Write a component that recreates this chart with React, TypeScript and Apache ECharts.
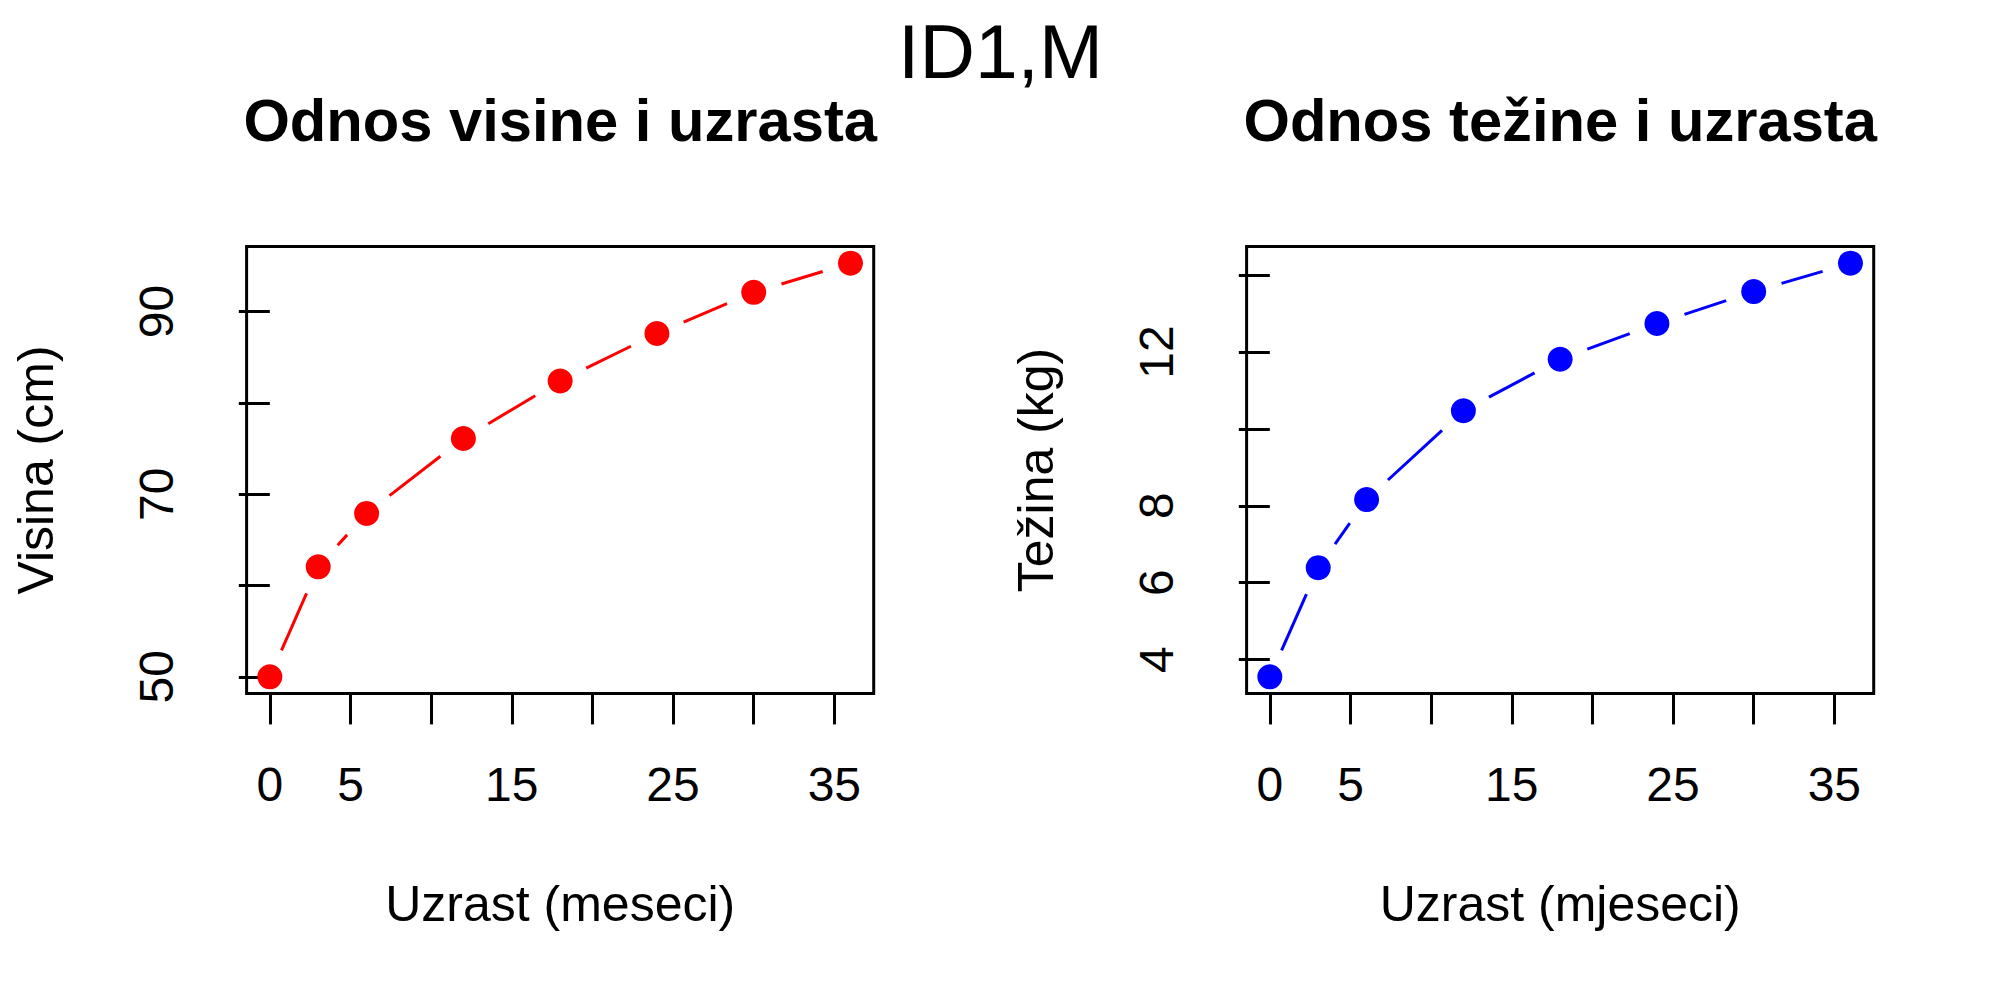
import React, { useEffect, useRef } from "react";
import * as echarts from "echarts";

// ---- data ----
const ages = [0, 3, 6, 12, 18, 24, 30, 36];
const heights = [50.0, 62.05, 67.9, 76.1, 82.4, 87.6, 92.1, 95.3];
const weights = [3.55, 6.39, 8.16, 10.47, 11.81, 12.74, 13.57, 14.31];

const xTicks = [0, 5, 10, 15, 20, 25, 30, 35];
const xTickLabels = [0, 5, 15, 25, 35];
const hTicks = [50, 60, 70, 80, 90];
const hTickLabels = [50, 70, 90];
const wTicks = [4, 6, 8, 10, 12, 14];
const wTickLabels = [4, 6, 8, 12];

const mainTitle = "ID1,M";
const titles = ["Odnos visine i uzrasta", "Odnos težine i uzrasta"];
const xNames = ["Uzrast (meseci)", "Uzrast (mjeseci)"];
const yNames = ["Visina (cm)", "Težina (kg)"];
const colors = ["#FF0000", "#0000FF"];

const FONT = '"Liberation Sans", Arial, Helvetica, sans-serif';

function ext(arr: number[]): [number, number] {
  const lo = Math.min(...arr);
  const hi = Math.max(...arr);
  const d = (hi - lo) * 0.04;
  return [lo - d, hi + d];
}

function segs(xs: number[], ys: number[]) {
  const out: number[][] = [];
  for (let i = 0; i < xs.length - 1; i++) out.push([xs[i], ys[i], xs[i + 1], ys[i + 1]]);
  return out;
}

const GAP = 29;

export default function App() {
  const ref = useRef<HTMLDivElement>(null);
  useEffect(() => {
    if (!ref.current) return;
    const chart = echarts.init(ref.current, undefined, { renderer: "svg" });
    const boxL = [246.6, 1246.6];
    const boxW = 627.1;
    const boxT = 246.6;
    const boxH = 446.8;
    const yData = [heights, weights];
    const yTicks = [hTicks, wTicks];
    const yTickLabels = [hTickLabels, wTickLabels];
    const xr = ext(ages);

    const grids = [0, 1].map((i) => ({
      left: boxL[i],
      top: boxT,
      width: boxW,
      height: boxH,
      show: true,
      borderColor: "#000",
      borderWidth: 3,
      backgroundColor: "transparent",
      containLabel: false,
    }));

    const xAxes = [0, 1].map((i) => ({
      gridIndex: i,
      type: "value",
      min: xr[0],
      max: xr[1],
      axisLine: { show: false },
      splitLine: { show: false },
      axisTick: {
        show: true,
        customValues: xTicks,
        length: 31,
        lineStyle: { color: "#000", width: 3 },
      },
      axisLabel: {
        customValues: xTickLabels,
        margin: 67,
        fontSize: 48,
        lineHeight: 48,
        fontFamily: FONT,
        color: "#000",
      },
    }));

    const yAxes = [0, 1].map((i) => {
      const r = ext(yData[i]);
      return {
        gridIndex: i,
        type: "value",
        min: r[0],
        max: r[1],
        axisLine: { show: false },
        splitLine: { show: false },
        axisTick: {
          show: true,
          customValues: yTicks[i],
          length: 31,
          lineStyle: { color: "#000", width: 3 },
        },
        axisLabel: {
          customValues: yTickLabels[i],
          rotate: 90,
          margin: 66,
          fontSize: 48,
          lineHeight: 48,
          fontFamily: FONT,
          color: "#000",
        },
      };
    });

    const series: any[] = [];
    [0, 1].forEach((i) => {
      series.push({
        type: "custom",
        xAxisIndex: i,
        yAxisIndex: i,
        data: segs(ages, yData[i]),
        renderItem: (params: any, api: any) => {
          const p0 = api.coord([api.value(0), api.value(1)]);
          const p1 = api.coord([api.value(2), api.value(3)]);
          const dx = p1[0] - p0[0];
          const dy = p1[1] - p0[1];
          const len = Math.sqrt(dx * dx + dy * dy);
          if (len <= 2 * GAP) return null;
          const ux = dx / len;
          const uy = dy / len;
          return {
            type: "line",
            shape: {
              x1: p0[0] + ux * GAP,
              y1: p0[1] + uy * GAP,
              x2: p1[0] - ux * GAP,
              y2: p1[1] - uy * GAP,
            },
            style: { stroke: colors[i], lineWidth: 3, fill: null },
          };
        },
        silent: true,
        z: 2,
      });
      series.push({
        type: "scatter",
        xAxisIndex: i,
        yAxisIndex: i,
        data: ages.map((a, k) => [a, yData[i][k]]),
        symbol: "circle",
        symbolSize: 25,
        itemStyle: { color: colors[i], opacity: 1 },
        silent: true,
        z: 3,
      });
    });

    const textStyle = (text: string, size: number, weight: string) => ({
      text,
      fill: "#000",
      font: `${weight} ${size}px ${FONT}`,
      fontSize: size,
      fontFamily: FONT,
      fontWeight: weight,
      align: "center",
      verticalAlign: "middle",
      textAlign: "center",
      textVerticalAlign: "middle",
    });

    const centers = [560.2, 1560.2];
    const graphic: any[] = [
      { type: "text", x: 1000.5, y: 50.5, style: textStyle(mainTitle, 76.8, "normal") },
    ];
    [0, 1].forEach((i) => {
      graphic.push({ type: "text", x: centers[i], y: 120.5, style: textStyle(titles[i], 59.7, "bold") });
      graphic.push({ type: "text", x: centers[i], y: 903.5, style: textStyle(xNames[i], 50, "normal") });
      graphic.push({
        type: "text",
        x: 36 + 1000 * i,
        y: 470,
        rotation: Math.PI / 2,
        style: textStyle(yNames[i], 50, "normal"),
      });
    });

    chart.setOption({
      animation: false,
      backgroundColor: "#fff",
      grid: grids,
      xAxis: xAxes,
      yAxis: yAxes,
      series,
      graphic,
    });
    return () => chart.dispose();
  }, []);
  return (
    <div
      ref={ref}
      style={{ position: "fixed", left: 0, top: 0, width: 2000, height: 1000, background: "#fff" }}
    />
  );
}
